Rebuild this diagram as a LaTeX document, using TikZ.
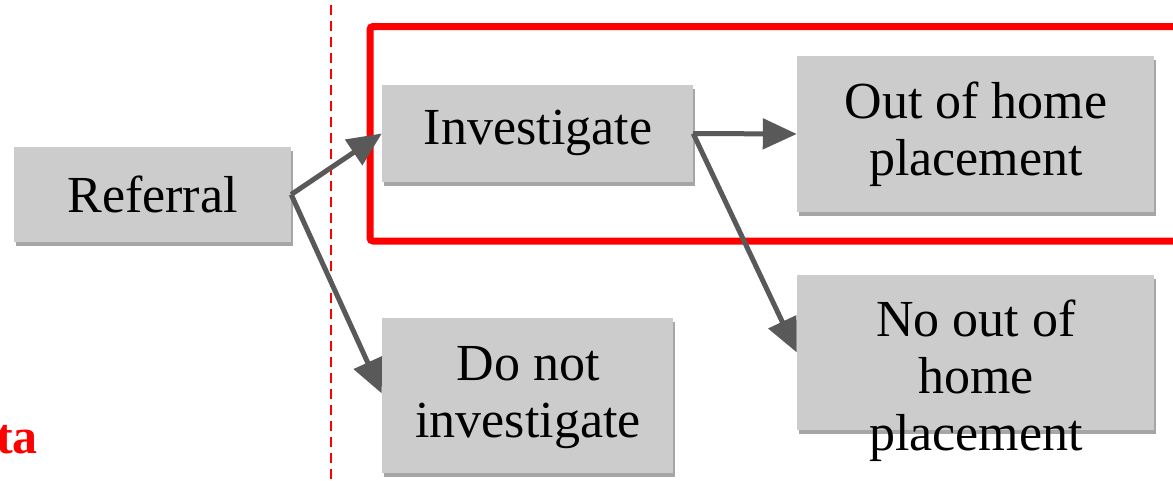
\documentclass[tikz,border=0pt]{standalone}
\usepackage{fontspec}
\setmainfont{Liberation Serif}
\usetikzlibrary{arrows.meta,shadows}
\definecolor{boxgray}{HTML}{CCCCCC}
\definecolor{arrgray}{HTML}{595959}
\tikzset{
  box/.style={draw=none, fill=boxgray, inner sep=0pt, anchor=center,
    drop shadow={shadow xshift=2pt, shadow yshift=-4pt, opacity=0.35, fill=black}},
  boxtext/.style={align=center, inner sep=0pt, font=\fontsize{52}{57}\selectfont},
  flow/.style={draw=arrgray, line width=5pt, -{Triangle[length=34pt,width=30pt]}},
}
\begin{document}
\begin{tikzpicture}[x=1pt,y=-1pt]
\useasboundingbox (0,0) rectangle (1173,480);
\clip (0,0) rectangle (1173,480);
% dashed separator
\draw[red, line width=1.5pt, dash pattern=on 10pt off 6pt] (331,5) -- (331,480);
% red frame
\draw[red, line width=7pt, rounded corners=3pt] (370,26.5) rectangle (1200,241);
% boxes
\node[box, minimum width=277pt, minimum height=95pt] (ref) at (152.5,194.5) {};
\node[box, minimum width=311pt, minimum height=97pt] (inv) at (537.5,133.5) {};
\node[box, minimum width=357pt, minimum height=156pt] (ooh) at (975.5,134) {};
\node[box, minimum width=291pt, minimum height=155pt] (dni) at (527.5,395.5) {};
\node[box, minimum width=357pt, minimum height=155pt] (nooh) at (975.5,352.5) {};
% texts
\node[boxtext] (reft) at (152.5,194) {Referral};
\node[boxtext] (invt) at (538,133) {Investigate};
\node[boxtext] (ooht) at (976,134) {Out of home\\placement};
\node[boxtext] (dnit) at (528,398) {Do not\\investigate};
\node[boxtext] (nooht) at (976,381) {No out of\\home\\placement};
% arrows
\draw[flow] (ref.east) -- (inv.west);
\draw[flow] (ref.east) -- ([yshift=2pt]dni.west);
\draw[flow] (inv.east) -- (ooh.west);
\draw[flow] (inv.east) -- (nooh.west);
% cut-off label
\node[anchor=base east, inner sep=0pt, text=red, font=\bfseries\fontsize{50}{55}\selectfont] (lbl) at (38,453) {ta};
\end{tikzpicture}
\end{document}
